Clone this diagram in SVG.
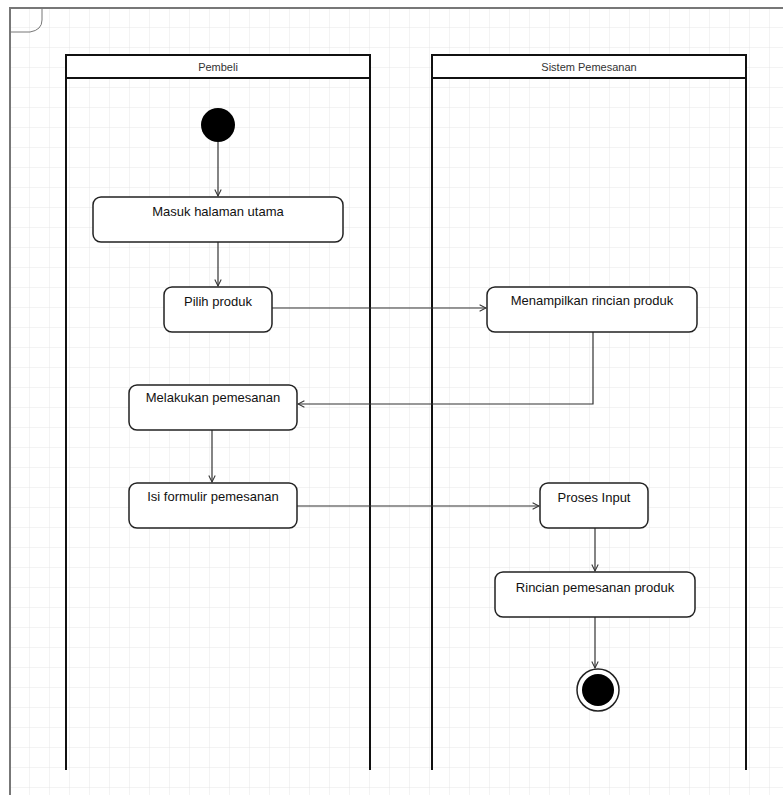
<svg xmlns="http://www.w3.org/2000/svg" width="783" height="795" viewBox="0 0 783 795">
<defs>
<pattern id="grid" width="20" height="20" patternUnits="userSpaceOnUse" x="10" y="8">
<path d="M20 0 V20 M0 20 H20" fill="none" stroke="#e6e6e6" stroke-width="1"/>
</pattern>
<marker id="arr" viewBox="0 0 10 10" refX="9" refY="5" markerWidth="8" markerHeight="8" orient="auto" markerUnits="userSpaceOnUse">
<path d="M1 1 L9 5 L1 9" fill="none" stroke="#333" stroke-width="1.3"/>
</marker>
</defs>
<style>
.act{fill:#fff;stroke:#222;stroke-width:1.5}
.lane{fill:none;stroke:#111;stroke-width:2}
.hdr{fill:#fff;stroke:#111;stroke-width:2}
.t{font-family:"Liberation Sans",Arial,sans-serif;font-size:13px;fill:#111;text-anchor:middle}
.h{font-family:"Liberation Sans",Arial,sans-serif;font-size:11px;fill:#333;text-anchor:middle}
.c{fill:none;stroke:#333;stroke-width:1.2}
</style>
<rect width="783" height="795" fill="#fff"/>
<rect x="10" y="8" width="773" height="787" fill="url(#grid)"/>
<g id="frame">
<path d="M10 795 V8 H783" fill="none" stroke="#777" stroke-width="2"/>
<path d="M10 32 H30 Q42 30 42 20 V8" fill="none" stroke="#777" stroke-width="1"/>
</g>
<g id="lane-pembeli">
<rect class="hdr" x="66" y="55" width="304" height="23"/>
<text class="h" x="218" y="71">Pembeli</text>
<path class="lane" d="M66 78 V770 M370 78 V770"/>
</g>
<g id="lane-sistem">
<rect class="hdr" x="432" y="55" width="314" height="23"/>
<text class="h" x="589" y="71">Sistem Pemesanan</text>
<path class="lane" d="M432 78 V770 M746 78 V770"/>
</g>
<g id="connectors">
<path class="c" d="M218 142 V196" marker-end="url(#arr)"/>
<path class="c" d="M218 242 V286" marker-end="url(#arr)"/>
<path class="c" d="M272 308 H486" marker-end="url(#arr)"/>
<path class="c" d="M593 332 V404 H298" marker-end="url(#arr)"/>
<path class="c" d="M212 430 V482" marker-end="url(#arr)"/>
<path class="c" d="M297 506 H539" stroke="#aaa" marker-end="url(#arr)"/>
<path class="c" d="M595 528 V571" marker-end="url(#arr)"/>
<path class="c" d="M595 617 V668" marker-end="url(#arr)"/>
</g>
<g id="start"><circle cx="218" cy="125" r="17" fill="#000"/></g>
<g id="masuk"><rect class="act" x="93" y="197" width="250" height="45" rx="8"/><text class="t" x="218" y="216">Masuk halaman utama</text></g>
<g id="pilih"><rect class="act" x="164" y="287" width="108" height="45" rx="8"/><text class="t" x="218" y="306">Pilih produk</text></g>
<g id="menampilkan"><rect class="act" x="487" y="287" width="210" height="45" rx="8"/><text class="t" x="592" y="305">Menampilkan rincian produk</text></g>
<g id="melakukan"><rect class="act" x="129" y="385" width="168" height="45" rx="8"/><text class="t" x="213" y="402">Melakukan pemesanan</text></g>
<g id="isi"><rect class="act" x="129" y="483" width="168" height="45" rx="8"/><text class="t" x="213" y="501">Isi formulir pemesanan</text></g>
<g id="proses"><rect class="act" x="540" y="483" width="108" height="45" rx="8"/><text class="t" x="594" y="502">Proses Input</text></g>
<g id="rincian"><rect class="act" x="495" y="572" width="200" height="45" rx="8"/><text class="t" x="595" y="592">Rincian pemesanan produk</text></g>
<g id="end"><circle cx="598" cy="690" r="21" fill="#fff" stroke="#222" stroke-width="1.5"/><circle cx="598" cy="690" r="16" fill="#000"/></g>
</svg>
